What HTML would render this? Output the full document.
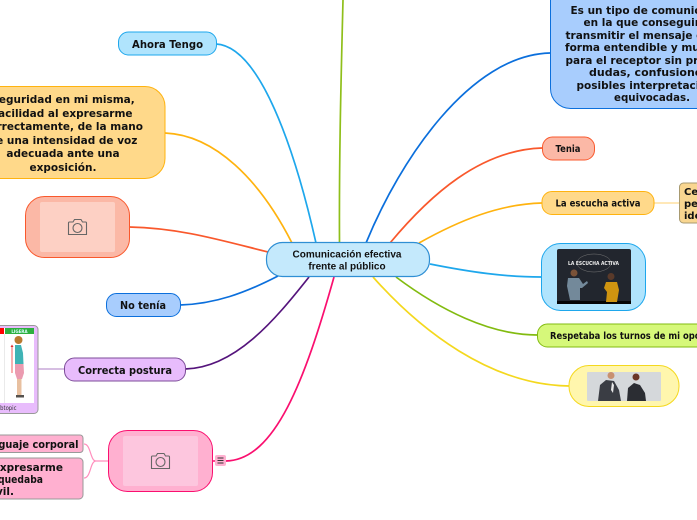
<!DOCTYPE html>
<html><head><meta charset="utf-8"><style>
html,body{margin:0;padding:0;background:#fff;width:697px;height:520px;overflow:hidden}
svg{display:block}
text{font-family:"DejaVu Sans",sans-serif;font-weight:bold;fill:#111;text-anchor:middle}
.c{font-family:"Liberation Sans",sans-serif;font-size:10px}
.b{font-size:10.5px}
.s{font-size:11px}
.m{font-size:10px}
path.l{fill:none;stroke-width:1.7}
</style></head><body>
<svg width="697" height="520" viewBox="0 0 697 520" xmlns="http://www.w3.org/2000/svg">
<!-- connectors -->
<path class="l" stroke="#8fbf1a" d="M339.500 243C339 160 341 80 343 0"/>
<path class="l" stroke="#1ea7ec" d="M316 243C295 150 260 46 216 44"/>
<path class="l" stroke="#ffb30f" d="M292 243C260 180 215 135 165 133"/>
<path class="l" stroke="#f9582c" d="M268 252C220 240 180 228 129 227"/>
<path class="l" stroke="#0b6fdc" d="M278 276C245 293 215 304 180 305"/>
<path class="l" stroke="#55147c" d="M309 277C275 320 235 368 185 369"/>
<path class="l" stroke="#fa0f6f" d="M334 277C305 380 275 460 226 461"/>
<path class="l" stroke="#0b6fdc" d="M366 243C400 160 470 55 550 53"/>
<path class="l" stroke="#f9582c" d="M390 243C430 195 480 150 542 148"/>
<path class="l" stroke="#ffb30f" d="M419 243C460 220 500 204 542 203"/>
<path class="l" stroke="#1ea7ec" d="M430 264C470 272 505 277 541 277"/>
<path class="l" stroke="#82bb10" d="M396 277C440 310 490 335 537 335"/>
<path class="l" stroke="#f4d81e" d="M373 277C420 330 490 385 569 386"/>
<path d="M654 203H679" stroke="#ffe0a0" stroke-width="1.500" fill="none"/>
<path d="M38 369H64" stroke="#c8a8d8" stroke-width="1.500" fill="none"/>
<path d="M108 461H96C90 461 91 444 84 444M96 461C90 461 91 478 84 478" stroke="#ff8fbd" stroke-width="1.200" fill="none"/>
<path d="M213 461H216" stroke="#fa0f6f" stroke-width="1.500"/>
<!-- central -->
<rect x="266.500" y="242.500" width="163" height="34" rx="16" fill="#c4e9fc" stroke="#2f8fd4" stroke-width="1.200"/>
<text class="c" x="347" y="257.500">Comunicación efectiva</text>
<text class="c" x="347" y="269.500">frente al público</text>
<!-- left nodes -->
<rect x="118.500" y="32" width="98" height="23" rx="10" fill="#b0e4fd" stroke="#1ea7ec"/>
<text class="s" x="167.500" y="48" textLength="71" lengthAdjust="spacingAndGlyphs">Ahora Tengo</text>
<rect x="-30" y="86.500" width="195" height="92" rx="20" fill="#ffd98a" stroke="#ffb30f"/>
<text class="b" x="63" y="103">Seguridad en mi misma,</text>
<text class="b" x="63" y="117">facilidad al expresarme</text>
<text class="b" x="63" y="130">correctamente, de la mano</text>
<text class="b" x="63" y="144">de una intensidad de voz</text>
<text class="b" x="63" y="157">adecuada ante una</text>
<text class="b" x="63" y="171">exposición.</text>
<rect x="25.500" y="196.500" width="104" height="61" rx="19" fill="#fbb8a6" stroke="#f9582c"/>
<rect x="40" y="202" width="75" height="50" rx="2" fill="#fdd0c4"/>
<g fill="none" stroke="#666" stroke-width="1.100"><path d="M68.500 234.500h18v-11.500a1 1 0 0 0-1-1h-3l-1.500-2.500h-6.500l-1.500 2.500h-3.500a1 1 0 0 0-1 1z"/><circle cx="77.500" cy="228" r="4.500"/></g>
<rect x="106.500" y="293.500" width="74" height="23" rx="10" fill="#a8cdfd" stroke="#0b6fdc"/>
<text class="s" x="143" y="309" textLength="46" lengthAdjust="spacingAndGlyphs">No tenía</text>
<rect x="64.500" y="358" width="121" height="23" rx="10" fill="#e8bcfc" stroke="#7c4c98"/>
<text class="s" x="125" y="374" textLength="94" lengthAdjust="spacingAndGlyphs">Correcta postura</text>
<!-- posture image -->
<rect x="-20" y="325.500" width="58" height="88" rx="4" fill="#e8bcfc" stroke="#999"/>
<rect x="-10" y="328" width="44" height="75" fill="#fff"/>
<rect x="-10" y="328" width="14" height="6" fill="#f00"/>
<rect x="5" y="328" width="29" height="6" fill="#2db040"/>
<text x="19.500" y="333" style="font-size:4px;fill:#dff">LIGERA</text>
<path d="M4.500 334V403" stroke="#ddd" stroke-width=".6"/>
<path d="M12 346V373" stroke="#f06060" stroke-width="1"/><path d="M10.500 347L12 344.500 13.500 347z" fill="#e03030"/>
<circle cx="18.500" cy="340" r="4" fill="#b97a30"/>
<path d="M15 345h6l2 8 .5 11h-8.500z" fill="#3fb3b5"/>
<path d="M15 364h8.500l.5 9-2 6h-5l-2-6z" fill="#eb9bb0"/>
<path d="M17 379h2.500v16h-2.500zM19.500 379h2v16h-2z" fill="#e8c0a0"/>
<path d="M16 395h8v2.500h-8z" fill="#55524e"/>
<text x="5" y="410" textLength="23" lengthAdjust="spacingAndGlyphs" style="font-size:6.500px;font-weight:normal;fill:#333">Subtopic</text>
<!-- pink -->
<rect x="108.500" y="430.500" width="104" height="61" rx="19" fill="#ffb0d0" stroke="#fa0f6f"/>
<rect x="123" y="436" width="75" height="50" rx="2" fill="#fdc6de"/>
<g fill="none" stroke="#666" stroke-width="1.100"><path d="M151.500 468.500h18v-11.500a1 1 0 0 0-1-1h-3l-1.500-2.500h-6.500l-1.500 2.500h-3.500a1 1 0 0 0-1 1z"/><circle cx="160.500" cy="462" r="4.500"/></g>
<rect x="215" y="455" width="11" height="11" rx="2" fill="#ffb0d0"/>
<path d="M217.500 458h6M217.500 460.500h6M217.500 463h6" stroke="#333" stroke-width="1"/>
<rect x="-30" y="435" width="113" height="17.500" rx="3" fill="#ffb0d0" stroke="#999"/>
<text class="b" x="78.500" y="448" style="text-anchor:end" textLength="100" lengthAdjust="spacingAndGlyphs">Lenguaje corporal</text>
<rect x="-30" y="458" width="113" height="41" rx="4" fill="#ffb0d0" stroke="#999"/>
<text class="b" x="63" y="471" style="text-anchor:end">Al expresarme</text>
<text class="b" x="43" y="483" style="text-anchor:end" textLength="64" lengthAdjust="spacingAndGlyphs">me quedaba</text>
<text class="b" x="14" y="495" style="text-anchor:end">inmóvil.</text>
<!-- right nodes -->
<rect x="550.500" y="-20" width="204" height="128.500" rx="20" fill="#a8cdfd" stroke="#0b6fdc"/>
<text class="b" x="570.500" y="14" style="text-anchor:start">Es un tipo de comunicación</text>
<text class="b" x="583.500" y="26" style="text-anchor:start">en la que conseguimos</text>
<text class="b" x="565.500" y="39" style="text-anchor:start">transmitir el mensaje de una</text>
<text class="b" x="565" y="51" style="text-anchor:start">forma entendible y muy clara</text>
<text class="b" x="565.500" y="64" style="text-anchor:start">para el receptor sin producir</text>
<text class="s" x="589" y="76" style="text-anchor:start">dudas, confusiones o</text>
<text class="b" x="576.500" y="89" style="text-anchor:start">posibles interpretaciones</text>
<text class="b" x="614" y="101" style="text-anchor:start" textLength="76" lengthAdjust="spacingAndGlyphs">equivocadas.</text>
<rect x="542.500" y="137" width="52" height="23" rx="10" fill="#fbb8a6" stroke="#f9582c"/>
<text class="m" x="568" y="152" textLength="25" lengthAdjust="spacingAndGlyphs">Tenia</text>
<rect x="542" y="191.500" width="112" height="23" rx="10" fill="#ffd98a" stroke="#ffb30f"/>
<text class="m" x="598" y="206.500" textLength="85" lengthAdjust="spacingAndGlyphs">La escucha activa</text>
<rect x="679.500" y="183" width="40" height="40" rx="4" fill="#f9d690" stroke="#a89a70"/>
<text class="m" x="684" y="195" style="text-anchor:start">Ce</text>
<text class="m" x="684" y="207" style="text-anchor:start">per</text>
<text class="m" x="684" y="219" style="text-anchor:start">ide</text>
<rect x="541.500" y="243.500" width="104" height="67" rx="19" fill="#b0e4fd" stroke="#1ea7ec"/>
<rect x="557" y="249" width="74" height="55" rx="2" fill="#22262e"/>
<rect x="557" y="301" width="74" height="3" fill="#050505"/>
<ellipse cx="594" cy="263" rx="17" ry="9" fill="none" stroke="#777" stroke-width=".5"/>
<text x="593.500" y="265" textLength="51" lengthAdjust="spacingAndGlyphs" style="font-size:5.500px;fill:#eee">LA ESCUCHA ACTIVA</text>
<circle cx="574" cy="273" r="3.500" fill="#7a5238"/>
<path d="M568 278h11l4 6 4-3 1 2-6 5-2 0v12h-10l-3-14z" fill="#73899a"/>
<circle cx="611" cy="276.500" r="3.500" fill="#5a3a2a"/>
<path d="M606 282h11l2 8-2 12h-11l1-10-3-4z" fill="#cf9410"/>
<rect x="537.500" y="324" width="200" height="23" rx="10" fill="#d6f87a" stroke="#82bb10"/>
<text class="m" x="550" y="339" style="text-anchor:start" textLength="178" lengthAdjust="spacingAndGlyphs">Respetaba los turnos de mi oponente</text>
<rect x="569" y="365.500" width="110" height="41" rx="20" fill="#fff6ad" stroke="#f4d81e"/>
<rect x="587" y="372" width="74" height="29" rx="1" fill="#d5d8db"/>
<path d="M598 401l2-16 6-5 8 1 5 9 2 11z" fill="#3a3d44"/><circle cx="611" cy="375.500" r="3.500" fill="#c89070"/>
<path d="M627 401l1-13 6-5 6 2 5 8 1 8z" fill="#2b2d33"/><circle cx="636" cy="377" r="3.500" fill="#6a3526"/><path d="M612 382l-1 8 2 3 1-8z" fill="#e8e8e8"/>
</svg>
</body></html>
